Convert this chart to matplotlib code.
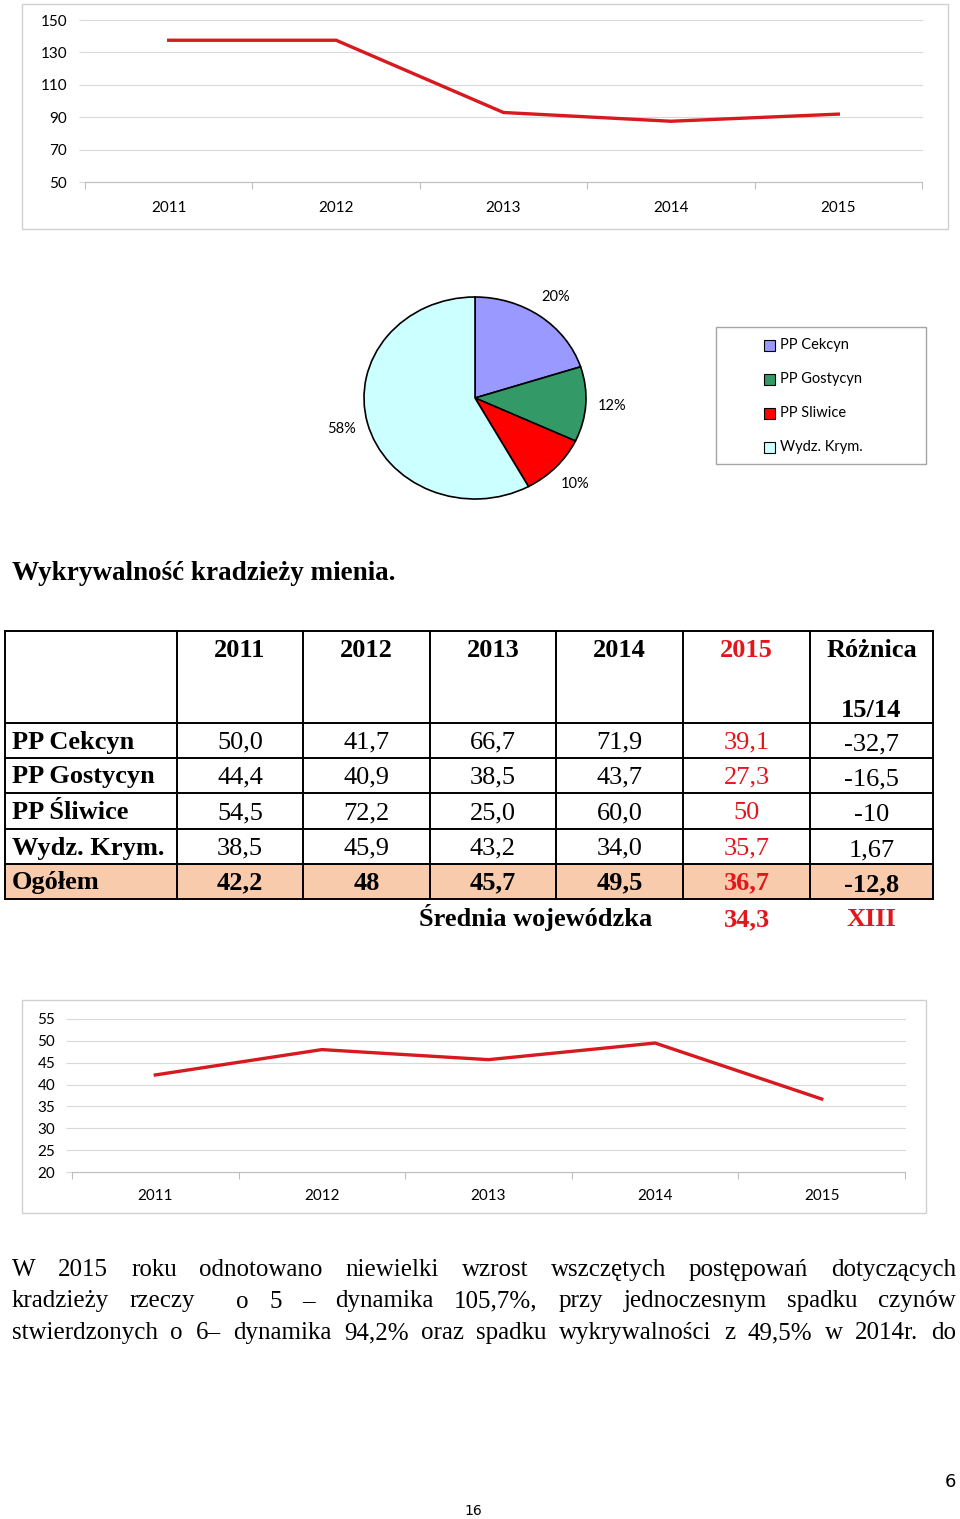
import matplotlib.pyplot as plt
import matplotlib.patches as mpatches
import numpy as np

W, H = 960, 1519

# --- data -------------------------------------------------------------
years = ["2011", "2012", "2013", "2014", "2015"]
dynamics = [137.5, 137.5, 92.9, 87.5, 91.9]
dyn_ticks = [50, 70, 90, 110, 130, 150]

pie_units = ["PP Cekcyn", "PP Gostycyn", "PP Sliwice", "Wydz. Krym."]
pie_shares = [20, 12, 10, 58]
pie_colors = ["#9999FF", "#339966", "#FF0000", "#CCFFFF"]

title = "Wykrywalność kradzieży mienia."
table_head = ["2011", "2012", "2013", "2014", "2015", "Różnica"]
row_names = ["PP Cekcyn", "PP Gostycyn", "PP Śliwice", "Wydz. Krym.", "Ogółem"]
row_vals = [
    ["50,0", "41,7", "66,7", "71,9", "39,1", "-32,7"],
    ["44,4", "40,9", "38,5", "43,7", "27,3", "-16,5"],
    ["54,5", "72,2", "25,0", "60,0", "50", "-10"],
    ["38,5", "45,9", "43,2", "34,0", "35,7", "1,67"],
    ["42,2", "48", "45,7", "49,5", "36,7", "-12,8"],
]
avg_label = "Średnia wojewódzka"
avg_vals = ["34,3", "XIII"]

ogolem = [42.2, 48, 45.7, 49.5, 36.7]
og_ticks = [20, 25, 30, 35, 40, 45, 50, 55]

para = [
    "W 2015 roku odnotowano niewielki wzrost wszczętych postępowań dotyczących",
    "kradzieży rzeczy  o 5 – dynamika 105,7%, przy jednoczesnym spadku czynów",
    "stwierdzonych o 6– dynamika 94,2% oraz spadku wykrywalności z 49,5% w 2014r. do",
]

SANS = "Lato"
SERIF = "Liberation Serif"
RED = "#E2161B"

fig = plt.figure(figsize=(W / 100, H / 100), dpi=100)
page = fig.add_axes([0, 0, 1, 1])
page.set_xlim(0, W)
page.set_ylim(H, 0)
page.axis("off")


def axes_px(left, top, right, bottom):
    return fig.add_axes([left / W, 1 - bottom / H, (right - left) / W, (bottom - top) / H])


def line_chart(rect, values, ticks, xpad, ypad):
    ax = axes_px(*rect)
    x = np.arange(len(years))
    ax.plot(x, values, color="#D71920", lw=2.4)
    ax.set_xlim(-0.5, len(years) - 0.5)
    ax.set_ylim(ticks[0], ticks[-1])
    ax.set_yticks(ticks)
    ax.set_yticklabels([str(t) for t in ticks], fontfamily=SANS, fontsize=11)
    ax.set_xticks(x)
    ax.set_xticklabels(years, fontfamily=SANS, fontsize=11)
    ax.set_xticks(np.arange(-0.5, len(years)), minor=True)
    ax.grid(axis="y", color="#D9D9D9", lw=0.8, clip_on=False)
    ax.set_axisbelow(True)
    ax.tick_params(axis="x", which="major", length=0, pad=xpad)
    ax.tick_params(axis="x", which="minor", length=5, color="#BFBFBF", width=0.8)
    ax.tick_params(axis="y", length=4, color="#D9D9D9", pad=ypad)
    for s in ["top", "right", "left"]:
        ax.spines[s].set_visible(False)
    ax.spines["bottom"].set_color("#BFBFBF")
    ax.set_facecolor("none")
    return ax


# top chart
page.add_patch(mpatches.Rectangle((22, 4), 926, 225, fill=False, ec="#D0D0D0", lw=1))
line_chart((85, 20, 922, 182), dynamics, dyn_ticks, xpad=14, ypad=9)

# pie
axp = axes_px(364, 297, 586, 499)
axp.pie(pie_shares, colors=pie_colors, startangle=90, counterclock=False,
        wedgeprops=dict(edgecolor="black", linewidth=1.2, clip_on=False),
        autopct=lambda p: f"{p:.0f}%", pctdistance=1.24,
        textprops=dict(fontfamily=SANS, fontsize=10.5))
axp.set_aspect("auto")
axp.set_xlim(-1, 1)
axp.set_ylim(-1, 1)

page.add_patch(mpatches.Rectangle((716, 327), 210, 137, fill=False, ec="#A6A6A6", lw=1))
for i, (name, col) in enumerate(zip(pie_units, pie_colors)):
    yy = 345 + i * 34
    page.add_patch(mpatches.Rectangle((764, yy - 5.5), 11, 11, fc=col, ec="black", lw=0.8))
    page.text(780, yy, name, fontfamily=SANS, fontsize=10.5, va="center", ha="left")

# title
page.text(12, 580, title, fontfamily=SERIF, fontsize=19.5, fontweight="bold", va="baseline")

# table
xs = [5, 177, 303, 430, 556, 683, 810, 933]
ys = [631, 723, 758, 793, 829, 864, 899]
page.add_patch(mpatches.Rectangle((xs[0], ys[-2]), xs[-1] - xs[0], ys[-1] - ys[-2],
                                  fc="#F8CBAD", ec="none"))
for x in xs:
    page.plot([x, x], [ys[0], ys[-1]], color="black", lw=1.4)
for y in ys:
    page.plot([xs[0], xs[-1]], [y, y], color="black", lw=1.4)

cx = [(xs[i] + xs[i + 1]) / 2 for i in range(len(xs) - 1)]
for j, h in enumerate(table_head):
    page.text(cx[j + 1], 657, h, fontfamily=SERIF, fontsize=19, fontweight="bold",
              ha="center", va="baseline", color=RED if h == "2015" else "black")
page.text(cx[-1], 717, "15/14", fontfamily=SERIF, fontsize=19, fontweight="bold",
          ha="center", va="baseline")

for i, (name, vals) in enumerate(zip(row_names, row_vals)):
    base = (ys[i + 1] + ys[i + 2]) / 2 + 8
    bold = "bold" if name == "Ogółem" else "normal"
    page.text(12, base, name, fontfamily=SERIF, fontsize=19, fontweight="bold",
              ha="left", va="baseline")
    for j, v in enumerate(vals):
        page.text(cx[j + 1], base + (2 if j == 5 else 0), v, fontfamily=SERIF, fontsize=19,
                  fontweight=bold, ha="center", va="baseline",
                  color=RED if j == 4 else "black")

page.text(536, 926, avg_label, fontfamily=SERIF, fontsize=19, fontweight="bold",
          ha="center", va="baseline")
page.text(cx[5], 926, avg_vals[0], fontfamily=SERIF, fontsize=19, fontweight="bold",
          ha="center", va="baseline", color=RED)
page.text(cx[6], 926, avg_vals[1], fontfamily=SERIF, fontsize=19, fontweight="bold",
          ha="center", va="baseline", color=RED)

# bottom chart
page.add_patch(mpatches.Rectangle((22, 1000), 904, 213, fill=False, ec="#D0D0D0", lw=1))
line_chart((72, 1019, 905, 1172), ogolem, og_ticks, xpad=12, ypad=8)

# justified paragraph
renderer = fig.canvas.get_renderer()
left, right = 12, 956
for k, line in enumerate(para):
    base = 1276 + k * 31.5
    words = line.split(" ")
    arts = [page.text(0, base, w, fontfamily=SERIF, fontsize=18, va="baseline") for w in words]
    widths = []
    for a in arts:
        bb = a.get_window_extent(renderer) if a.get_text() else None
        widths.append(bb.width if bb is not None else 0.0)
    gap = (right - left - sum(widths)) / (len(words) - 1)
    x = left
    for a, w in zip(arts, widths):
        a.set_x(x)
        x += w + gap

page.text(473, 1511, "16", fontfamily="DejaVu Sans", fontsize=10, ha="center", va="center")
page.text(950, 1482, "6", fontfamily="DejaVu Sans", fontsize=13, ha="center", va="center")

fig.savefig("out.png", dpi=100)
plt.close(fig)
